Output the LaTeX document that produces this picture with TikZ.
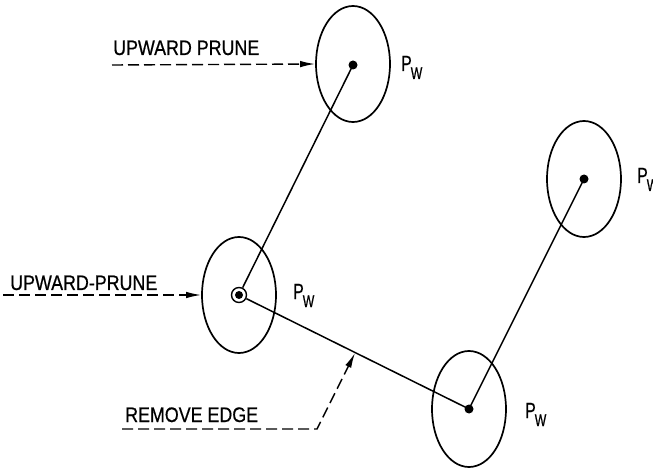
\documentclass[tikz,border=0pt]{standalone}
\usepackage{fontspec}
\newfontfamily\lab[FakeStretch=0.85,FakeBold=0.6]{Liberation Sans}
\newfontfamily\pwfont[FakeStretch=0.72,FakeBold=0.6]{Liberation Sans}
\newcommand{\pwlabel}{{\pwfont\fontsize{22}{22}\selectfont P\kern-1pt\raisebox{-8pt}{\fontsize{17}{17}\selectfont W}}}
\usetikzlibrary{shapes.geometric,arrows.meta}
\begin{document}
\begin{tikzpicture}[x=1pt,y=-1pt,
  region/.style={draw,line width=1.7pt,ellipse,minimum width=74pt,minimum height=116pt,inner sep=0pt},
  vdot/.style={circle,fill,inner sep=0pt,minimum size=9pt},
  edge/.style={line width=1.5pt},
  pointer/.style={line width=1.4pt,dash pattern=on 11pt off 5pt,-{Latex[length=15pt,width=6.5pt]}},
  txt/.style={font=\lab\fontsize{21}{21}\selectfont,inner sep=0pt,anchor=base west},
  pw/.style={inner sep=0pt,anchor=base west}]
\useasboundingbox (0,0) rectangle (653,470);
% regions
\node[region] (e1) at (353,64) {};
\node[region] (e2) at (239,295) {};
\node[region] (e3) at (469,409) {};
\node[region] (e4) at (584,179) {};
% vertices
\node[vdot] (v1) at (353,65) {};
\node[vdot,minimum size=8pt] (v2) at (239,295) {};
\node[circle,draw,line width=1.4pt,minimum size=15pt,inner sep=0pt] (v2o) at (239,295) {};
\node[vdot] (v3) at (469,409) {};
\node[vdot] (v4) at (584,179) {};
% edges
\draw[edge] (v1.center) -- (v2o);
\draw[edge] (v2o) -- (v3.center);
\draw[edge] (v3.center) -- (v4.center);
% labels P_W
\node[pw] (p1) at (401,71) {\pwlabel};
\node[pw] (p2) at (293,299) {\pwlabel};
\node[pw] (p3) at (525,418) {\pwlabel};
\node[pw] (p4) at (637,183) {\pwlabel};
% annotations
\node[txt] (t1) at (113,55) {UPWARD PRUNE};
\coordinate (a1) at (112,65);
\draw[pointer] (a1) -- (e1.west);
\node[txt] (t2) at (10,290) {UPWARD-PRUNE};
\coordinate (a2) at (3,295);
\draw[pointer] (a2) -- (e2.west);
\node[txt] (t3) at (125,422) {REMOVE EDGE};
\coordinate (a3) at (122,429);
\coordinate (b3) at (317,429);
\coordinate (c3) at (355,353);
\draw[pointer] (a3) -- (b3) -- (c3);
\end{tikzpicture}
\end{document}
